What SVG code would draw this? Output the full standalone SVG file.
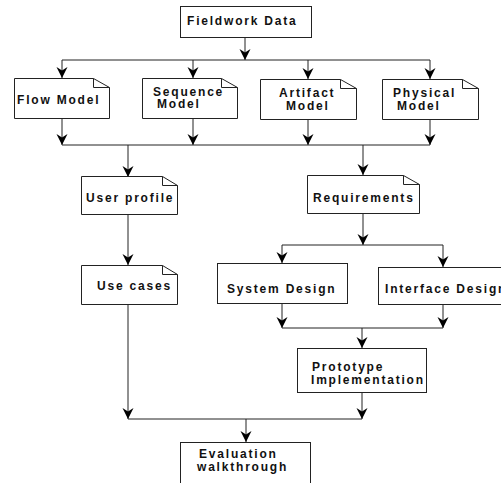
<svg xmlns="http://www.w3.org/2000/svg" width="501" height="483" viewBox="0 0 501 483">
  <style>
    .box { fill: #ffffff; stroke: #222222; stroke-width: 1; }
    .fold { fill: none; stroke: #222222; stroke-width: 1; }
    .lbl { font-family: "Liberation Sans", Arial, sans-serif; font-weight: bold; font-size: 12px; letter-spacing: 1.8px; fill: #111111; }
    .wire { fill: none; stroke: #222222; stroke-width: 1; }
    .arr { marker-end: url(#head); }
  </style>
  <defs>
    <marker id="head" markerUnits="userSpaceOnUse" markerWidth="12" markerHeight="12" refX="11" refY="6" orient="auto">
      <path d="M0,0.5 L11,6 L0,11.5 L3.5,6 Z" fill="#000000"/>
    </marker>
  </defs>
  <rect width="501" height="483" fill="#ffffff"/>

  <!-- connectors -->
  <g id="connectors">
    <path class="wire arr" d="M245,37 V60"/>
    <path class="wire" d="M62,60 H430"/>
    <path class="wire arr" d="M62,60 V78"/>
    <path class="wire arr" d="M193,60 V78"/>
    <path class="wire arr" d="M308,60 V79"/>
    <path class="wire arr" d="M430,60 V79"/>

    <path class="wire arr" d="M62,118 V145"/>
    <path class="wire arr" d="M193,118 V145"/>
    <path class="wire arr" d="M308,119 V145"/>
    <path class="wire arr" d="M430,119 V145"/>
    <path class="wire" d="M62,145 H430"/>

    <path class="wire arr" d="M128,145 V177"/>
    <path class="wire arr" d="M363,145 V175"/>

    <path class="wire arr" d="M128,214 V265"/>
    <path class="wire arr" d="M363,213 V245"/>
    <path class="wire" d="M282,245 H443"/>
    <path class="wire arr" d="M282,245 V263"/>
    <path class="wire arr" d="M443,245 V267"/>

    <path class="wire arr" d="M282,303 V328"/>
    <path class="wire arr" d="M443,304 V328"/>
    <path class="wire" d="M282,328 H443"/>
    <path class="wire arr" d="M362,328 V348"/>

    <path class="wire arr" d="M362,392 V419"/>
    <path class="wire arr" d="M128,304 V419"/>
    <path class="wire" d="M128,419 H362"/>
    <path class="wire arr" d="M246,419 V442"/>
  </g>

  <!-- nodes -->
  <g id="fieldwork-data">
    <rect class="box" x="180.5" y="6.5" width="131" height="31"/>
    <text class="lbl" x="187" y="25">Fieldwork Data</text>
  </g>

  <g id="flow-model">
    <path class="box" d="M14.5,78.5 H93.5 L109.5,87.5 V118.5 H14.5 Z"/>
    <path class="fold" d="M93.5,78.5 V87.5 H109.5"/>
    <text class="lbl" x="17" y="104">Flow Model</text>
  </g>

  <g id="sequence-model">
    <path class="box" d="M142.5,78.5 H221.5 L237.5,87.5 V118.5 H142.5 Z"/>
    <path class="fold" d="M221.5,78.5 V87.5 H237.5"/>
    <text class="lbl" x="153" y="96">Sequence</text>
    <text class="lbl" x="157" y="108">Model</text>
  </g>

  <g id="artifact-model">
    <path class="box" d="M260.5,79.5 H340.5 L356.5,88.5 V119.5 H260.5 Z"/>
    <path class="fold" d="M340.5,79.5 V88.5 H356.5"/>
    <text class="lbl" x="279" y="97">Artifact</text>
    <text class="lbl" x="286" y="110">Model</text>
  </g>

  <g id="physical-model">
    <path class="box" d="M382.5,79.5 H462.5 L478.5,88.5 V119.5 H382.5 Z"/>
    <path class="fold" d="M462.5,79.5 V88.5 H478.5"/>
    <text class="lbl" x="393" y="97">Physical</text>
    <text class="lbl" x="397" y="110">Model</text>
  </g>

  <g id="user-profile">
    <path class="box" d="M81.5,176.5 H162.5 L177.5,185.5 V214.5 H81.5 Z"/>
    <path class="fold" d="M162.5,176.5 V185.5 H177.5"/>
    <text class="lbl" x="86" y="202">User profile</text>
  </g>

  <g id="requirements">
    <path class="box" d="M307.5,175.5 H403.5 L419.5,184.5 V213.5 H307.5 Z"/>
    <path class="fold" d="M403.5,175.5 V184.5 H419.5"/>
    <text class="lbl" x="313" y="202">Requirements</text>
  </g>

  <g id="use-cases">
    <path class="box" d="M81.5,265.5 H162.5 L177.5,274.5 V304.5 H81.5 Z"/>
    <path class="fold" d="M162.5,265.5 V274.5 H177.5"/>
    <text class="lbl" x="97" y="290">Use cases</text>
  </g>

  <g id="system-design">
    <rect class="box" x="217.5" y="263.5" width="130" height="40"/>
    <text class="lbl" x="227" y="293">System Design</text>
  </g>

  <g id="interface-design">
    <rect class="box" x="378.5" y="267.5" width="130" height="37"/>
    <text class="lbl" x="385" y="293">Interface Design</text>
  </g>

  <g id="prototype-implementation">
    <rect class="box" x="297.5" y="348.5" width="129" height="44"/>
    <text class="lbl" x="312" y="371">Prototype</text>
    <text class="lbl" x="311" y="384">Implementation</text>
  </g>

  <g id="evaluation-walkthrough">
    <rect class="box" x="180.5" y="442.5" width="130" height="50"/>
    <text class="lbl" x="199" y="458">Evaluation</text>
    <text class="lbl" x="197" y="471">walkthrough</text>
  </g>
</svg>
